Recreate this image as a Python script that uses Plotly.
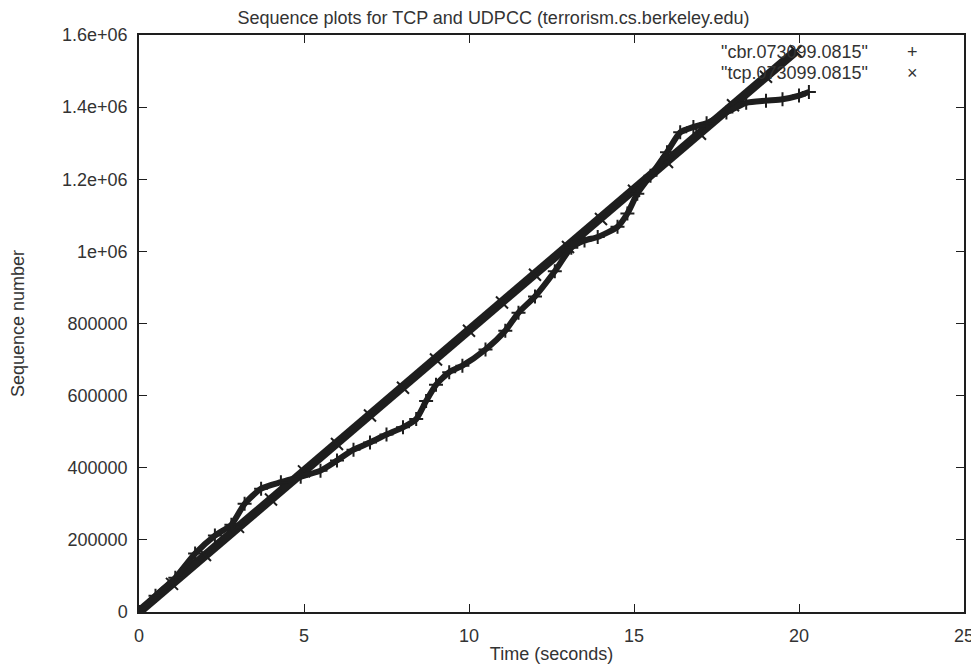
import plotly.graph_objects as go

# TCP series ("x" markers): nearly straight
tcp_t = [0, 1, 2, 3, 4, 5, 6, 7, 8, 9, 10, 11, 12, 13, 14, 15, 16, 17, 18, 19, 19.9]
tcp_seq = [0, 78000, 158000, 236000, 312000, 390000, 466000, 545000, 622000, 700000,
           780000, 858000, 935000, 1012000, 1090000, 1168000, 1248000, 1326000,
           1405000, 1484000, 1555000]

# UDPCC / cbr series ("+" markers): wavy
cbr_t = [0, 0.5, 1.1, 1.7, 2.3, 2.8, 3.2, 3.7, 4.3, 4.9, 5.5, 6.0, 6.5, 7.0, 7.5, 8.0,
         8.4, 8.7, 9.0, 9.4, 9.8, 10.5, 11.1, 11.5, 12.0, 12.6, 13.1, 13.5, 13.9, 14.5,
         14.8, 15.1, 15.5, 16.0, 16.4, 16.8, 17.2, 17.8, 18.4, 19.0, 19.5, 20.0, 20.3]
cbr_seq = [0, 45000, 95000, 162000, 212000, 242000, 300000, 342000, 360000, 375000,
           392000, 420000, 450000, 470000, 492000, 512000, 535000, 585000, 630000,
           665000, 683000, 728000, 780000, 830000, 875000, 945000, 1010000, 1030000,
           1040000, 1068000, 1105000, 1160000, 1210000, 1275000, 1330000, 1345000,
           1355000, 1385000, 1412000, 1418000, 1422000, 1432000, 1442000]

x_ticks = [0, 5, 10, 15, 20, 25]
y_ticks = [0, 200000, 400000, 600000, 800000, 1000000, 1200000, 1400000, 1600000]
y_labels = ["0", "200000", "400000", "600000", "800000", "1e+06", "1.2e+06", "1.4e+06", "1.6e+06"]

series_names = ['"cbr.073099.0815"', '"tcp.073099.0815"']

FONT = "Liberation Sans, Arial, Helvetica, sans-serif"
INK = "#1e1e1e"
TXT = "#333333"

# the page body adds an 8px offset, so the figure is sized to fill the rest of the window
W, H = 971, 656

fig = go.Figure()
fig.add_trace(go.Scatter(
    x=tcp_t, y=tcp_seq, mode="lines+markers", name=series_names[1],
    line=dict(color=INK, width=9),
    marker=dict(symbol="x-thin-open", size=12, color=INK, line=dict(width=2, color=INK)),
    showlegend=False))
fig.add_trace(go.Scatter(
    x=cbr_t, y=cbr_seq, mode="lines+markers", name=series_names[0],
    line=dict(color=INK, width=6, shape="spline", smoothing=0.6),
    marker=dict(symbol="cross-thin-open", size=10, color=INK, line=dict(width=2, color=INK)),
    showlegend=False))

axis_common = dict(
    showline=True, linecolor=INK, linewidth=1.5, mirror="ticks",
    ticks="inside", ticklen=8, tickwidth=1.2, tickcolor=INK,
    showgrid=False, zeroline=False, automargin=False,
    tickfont=dict(family=FONT, size=18, color=TXT),
)

fig.update_layout(
    width=W, height=H,
    margin=dict(l=131, r=15, t=27, b=52),
    paper_bgcolor="white", plot_bgcolor="white",
    font=dict(family=FONT, size=18, color=TXT),
    title=dict(text="Sequence plots for TCP and UDPCC (terrorism.cs.berkeley.edu)",
               x=0.5, xanchor="center", y=1 - 10 / H, yanchor="middle",
               font=dict(family=FONT, size=18, color=TXT)),
    xaxis=dict(range=[0, 25], tickvals=x_ticks,
               title=dict(text="Time (seconds)", standoff=2,
                          font=dict(family=FONT, size=18, color=TXT)),
               ticklabelstandoff=7, **axis_common),
    yaxis=dict(range=[0, 1600000], tickvals=y_ticks, ticktext=y_labels,
               title=dict(text="Sequence number", standoff=36,
                          font=dict(family=FONT, size=18, color=TXT)),
               ticklabelstandoff=6, **axis_common),
)

# gnuplot-style key (text then symbol), top right inside the plot
for i, (name, sym) in enumerate(zip(series_names, ["+", "×"])):
    yy = 0.970 - i * 0.036
    fig.add_annotation(xref="paper", yref="paper", x=0.886, y=yy, text=name,
                       showarrow=False, xanchor="right", yanchor="middle",
                       font=dict(family=FONT, size=18, color=TXT))
    fig.add_annotation(xref="paper", yref="paper", x=0.937, y=yy, text=sym,
                       showarrow=False, xanchor="center", yanchor="middle",
                       font=dict(family=FONT, size=18, color=TXT))

fig.write_html("out.html")
